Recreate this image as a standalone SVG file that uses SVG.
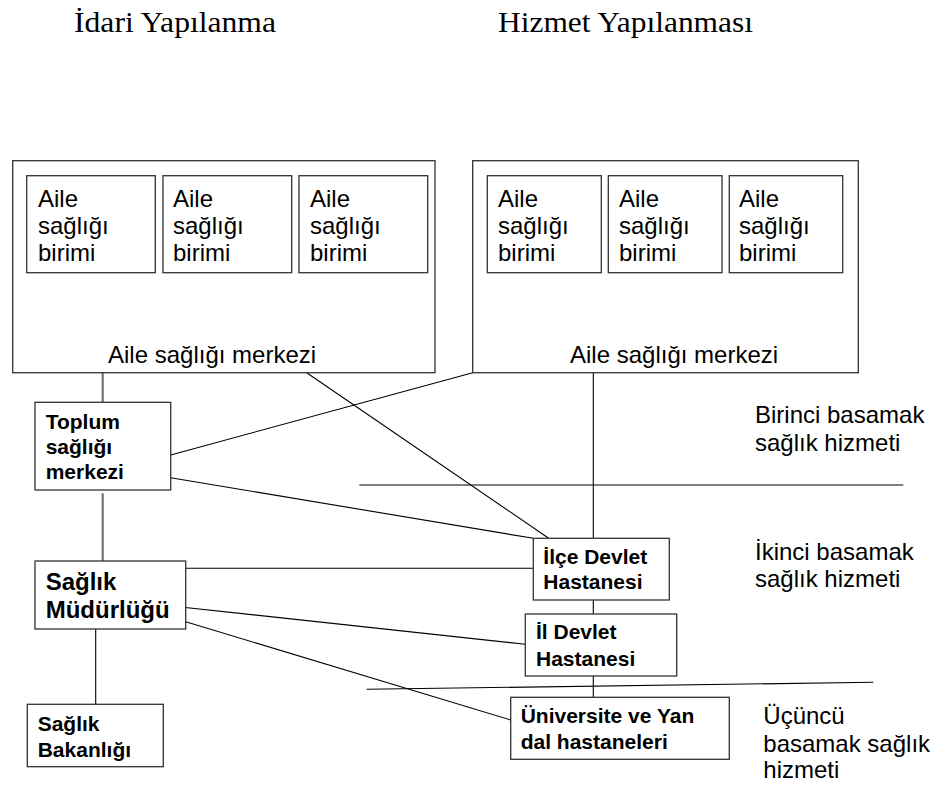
<svg xmlns="http://www.w3.org/2000/svg" width="933" height="787" viewBox="0 0 933 787">
<style>
.box{fill:#fff;stroke:#333;stroke-width:1.3}
.t{font-family:"Liberation Sans",Arial,sans-serif;font-size:24px;fill:#000}
.b{font-family:"Liberation Sans",Arial,sans-serif;font-weight:bold;font-size:21px;fill:#000}
.title{font-family:"Liberation Serif","Times New Roman",serif;font-size:29px;fill:#000}
.c{stroke:#000;stroke-width:1.1;fill:none}
.g{stroke:#666;stroke-width:2;fill:none}
</style>
<rect width="933" height="787" fill="#fff"/>
<text class="title" x="74" y="32" textLength="202" lengthAdjust="spacingAndGlyphs">İdari Yapılanma</text>
<text class="title" x="498" y="32" textLength="255" lengthAdjust="spacingAndGlyphs">Hizmet Yapılanması</text>

<g id="connectors">
<line class="g" x1="102.7" y1="372.7" x2="102.7" y2="402.3"/>
<line class="g" x1="102.7" y1="493.3" x2="102.7" y2="561"/>
<line class="c" x1="95.7" y1="629" x2="95.7" y2="704.3"/>
<line class="c" x1="306.7" y1="372.7" x2="548.3" y2="538"/>
<line class="c" x1="472.7" y1="372.7" x2="170.7" y2="455"/>
<line class="c" x1="170.7" y1="477.7" x2="533.3" y2="538.3"/>
<line class="c" x1="185.7" y1="568.3" x2="533.3" y2="568.3"/>
<line class="c" x1="178.3" y1="606.7" x2="525.3" y2="644.3"/>
<line class="c" x1="185.7" y1="621.7" x2="510.7" y2="720"/>
<line class="c" x1="593.3" y1="372.7" x2="593.3" y2="538.3"/>
<line class="c" x1="593.3" y1="600" x2="593.3" y2="614"/>
<line class="c" x1="593.3" y1="676" x2="593.3" y2="697.3"/>
<line class="c" x1="359.3" y1="485" x2="903.3" y2="485"/>
<line class="c" x1="366.7" y1="689.3" x2="873.3" y2="682.3"/>
</g>

<g id="asm-left">
<rect class="box" x="12.7" y="160.7" width="422.3" height="212"/>
<text class="t" x="108" y="363">Aile sağlığı merkezi</text>
</g>
<g id="asb-l1">
<rect class="box" x="26.7" y="175.7" width="128.6" height="97"/>
<text class="t" x="38" y="207"><tspan x="38">Aile</tspan><tspan x="38" dy="27">sağlığı</tspan><tspan x="38" dy="27">birimi</tspan></text>
</g>
<g id="asb-l2">
<rect class="box" x="163" y="175.7" width="128.7" height="97"/>
<text class="t" x="173" y="207"><tspan x="173">Aile</tspan><tspan x="173" dy="27">sağlığı</tspan><tspan x="173" dy="27">birimi</tspan></text>
</g>
<g id="asb-l3">
<rect class="box" x="299" y="175.7" width="128.7" height="97"/>
<text class="t" x="310" y="207"><tspan x="310">Aile</tspan><tspan x="310" dy="27">sağlığı</tspan><tspan x="310" dy="27">birimi</tspan></text>
</g>

<g id="asm-right">
<rect class="box" x="472.7" y="160.7" width="385.6" height="212"/>
<text class="t" x="570" y="363">Aile sağlığı merkezi</text>
</g>
<g id="asb-r1">
<rect class="box" x="487.3" y="175.7" width="114" height="97"/>
<text class="t" x="498" y="207"><tspan x="498">Aile</tspan><tspan x="498" dy="27">sağlığı</tspan><tspan x="498" dy="27">birimi</tspan></text>
</g>
<g id="asb-r2">
<rect class="box" x="608.3" y="175.7" width="113.7" height="97"/>
<text class="t" x="619" y="207"><tspan x="619">Aile</tspan><tspan x="619" dy="27">sağlığı</tspan><tspan x="619" dy="27">birimi</tspan></text>
</g>
<g id="asb-r3">
<rect class="box" x="729.3" y="175.7" width="113.4" height="97"/>
<text class="t" x="739" y="207"><tspan x="739">Aile</tspan><tspan x="739" dy="27">sağlığı</tspan><tspan x="739" dy="27">birimi</tspan></text>
</g>

<g id="toplum">
<rect class="box" x="35" y="402.3" width="135.7" height="87.7"/>
<text class="b" x="45.7" y="429.3"><tspan x="45.7">Toplum</tspan><tspan x="45.7" dy="25">sağlığı</tspan><tspan x="45.7" dy="25">merkezi</tspan></text>
</g>
<g id="mudurluk">
<rect class="box" x="35" y="561" width="150.7" height="68"/>
<text class="b" style="font-size:24px" x="45.7" y="590"><tspan x="45.7">Sağlık</tspan><tspan x="45.7" dy="28.3">Müdürlüğü</tspan></text>
</g>
<g id="bakanlik">
<rect class="box" x="27.3" y="704.3" width="136" height="62.4"/>
<text class="b" x="37.7" y="731"><tspan x="37.7">Sağlık</tspan><tspan x="37.7" dy="25.7">Bakanlığı</tspan></text>
</g>
<g id="ilce">
<rect class="box" x="533.3" y="538.3" width="136" height="61.7"/>
<text class="b" x="543.3" y="564.3"><tspan x="543.3">İlçe Devlet</tspan><tspan x="543.3" dy="25">Hastanesi</tspan></text>
</g>
<g id="il">
<rect class="box" x="525.3" y="614" width="151.4" height="62"/>
<text class="b" x="536" y="639.3"><tspan x="536">İl Devlet</tspan><tspan x="536" dy="26.7">Hastanesi</tspan></text>
</g>
<g id="universite">
<rect class="box" x="510.7" y="697.3" width="218.6" height="62"/>
<text class="b" x="520.7" y="723.3"><tspan x="520.7">Üniversite ve Yan</tspan><tspan x="520.7" dy="26">dal hastaneleri</tspan></text>
</g>

<g id="levels">
<text class="t" x="755" y="422.7"><tspan x="755">Birinci basamak</tspan><tspan x="755" dy="28.3">sağlık hizmeti</tspan></text>
<text class="t" x="755" y="560"><tspan x="755">İkinci basamak</tspan><tspan x="755" dy="26.7">sağlık hizmeti</tspan></text>
<text class="t" x="763.3" y="724"><tspan x="763.3">Üçüncü</tspan><tspan x="763.3" dy="27.7">basamak sağlık</tspan><tspan x="763.3" dy="26.7">hizmeti</tspan></text>
</g>
</svg>
